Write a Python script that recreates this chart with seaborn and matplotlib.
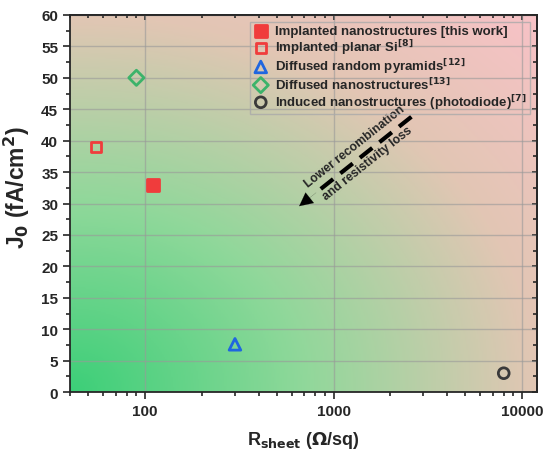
import matplotlib
matplotlib.use("Agg")
import matplotlib.pyplot as plt
import seaborn as sns
import numpy as np
from matplotlib.colors import LinearSegmentedColormap

sns.set_style("ticks")
plt.rcParams['font.family'] = ['Liberation Sans', 'DejaVu Sans']
plt.rcParams['font.weight'] = 'bold'
plt.rcParams['mathtext.default'] = 'regular'

# datos
labels = ["Implanted nanostructures [this work]",
          "Implanted planar Si$^{\\mathbf{[8]}}$",
          "Diffused random pyramids$^{\\mathbf{[12]}}$",
          "Diffused nanostructures$^{\\mathbf{[13]}}$",
          "Induced nanostructures (photodiode)$^{\\mathbf{[7]}}$"]
r_sheet = [110, 55, 300, 90, 8000]
j0 = [33, 39, 7.6, 50, 3.0]

markers = ["s", "s", "^", "D", "o"]
colores = ["#f03c3c", "#f03c3c", "#1f66e0", "#3cb36a", "#3a3a3a"]
rellenos = ["#f03c3c", "none", "none", "none", "none"]
tamanos = [70, 50, 70, 60, 60]

fig = plt.figure(figsize=(5.44, 4.56), dpi=100)
ax = fig.add_axes([0.1287, 0.138, 0.8583, 0.827])

# fondo degradado (verde abajo-izquierda, rosa arriba-derecha)
cmap = LinearSegmentedColormap.from_list(
    "fondo", [(0, "#3ccf78"), (0.35, "#8fd89a"), (0.707, "#e2c6b4"), (1, "#f8c2c7")])
u, v = np.meshgrid(np.linspace(0, 1, 300), np.linspace(0, 1, 300))
r = np.sqrt(u**2 + v**2) / np.sqrt(2)
ax.imshow(r, cmap=cmap, extent=[0, 1, 0, 1], origin="lower", aspect="auto",
          transform=ax.transAxes, zorder=0, vmin=0, vmax=1)

for i in range(len(labels)):
    sns.scatterplot(ax=ax, x=[r_sheet[i]], y=[j0[i]], marker=markers[i], s=tamanos[i],
                    facecolor=rellenos[i], edgecolor=colores[i], linewidth=2,
                    label=labels[i], zorder=5)

ax.set_xscale("log")
ax.set_xlim(40, 12000)
ax.set_ylim(0, 60)
ax.set_yticks(np.arange(0, 61, 5))
ax.set_yticks(np.arange(0, 61, 2.5), minor=True)
ax.set_xticks([100, 1000, 10000])
ax.set_xticklabels(["100", "1000", "10000"])
ax.grid(True, which="major", color="#999999", alpha=0.6, lw=1, zorder=1)
ax.set_axisbelow(True)

ax.tick_params(which="both", direction="out", top=False, right=False, labelsize=11, width=1.2)
ax.tick_params(which="major", length=5)
ax.tick_params(which="minor", length=3)
ax2 = ax.secondary_xaxis("top")
ax2.set_xticks([100, 1000, 10000])
ax2.tick_params(which="both", direction="in", labeltop=False, width=1.2)
ax3 = ax.secondary_yaxis("right")
ax3.set_yticks(np.arange(0, 61, 5))
ax3.set_yticks(np.arange(0, 61, 2.5), minor=True)
ax3.tick_params(which="both", direction="in", labelright=False, width=1.2)
ax3.tick_params(which="minor", length=3)
for s in ax.spines.values():
    s.set_linewidth(1.3)
for a in (ax2, ax3):
    for s in a.spines.values():
        s.set_linewidth(1.3)
for t in ax.get_xticklabels() + ax.get_yticklabels():
    t.set_fontweight("bold")

ax.set_xlabel("R$_{\\mathbf{sheet}}$ ($\\mathbf{\\Omega}$/sq)", fontsize=13, fontweight="bold", labelpad=8)
ax.set_ylabel("J$_\\mathbf{0}$ (fA/cm$^\\mathbf{2}$)", fontsize=16.5, fontweight="bold")
ax.yaxis.set_label_coords(-0.082, 0.545)

leg = ax.legend(loc="upper right", fontsize=9.5, frameon=True, handletextpad=0.5,
                borderpad=0.25, labelspacing=0.02, borderaxespad=0.5, handlelength=1.2,
                facecolor="none", edgecolor="#aaaaaa", fancybox=False)
leg.get_frame().set_linewidth(1)
for t in leg.get_texts():
    t.set_fontweight("bold")

# flecha discontinua
cola = (2590, 43.8)
fin = (830, 32.0)
punta = (640, 29.3)
centro = (1400, 37.8)
ax.plot([cola[0], fin[0]], [cola[1], fin[1]], color="black", lw=3, dashes=(3.8, 2.2), zorder=4)
ax.annotate("", xy=punta, xytext=fin,
            arrowprops=dict(arrowstyle="-|>", color="black", mutation_scale=24, lw=0.1))
p1 = ax.transData.transform(cola)
p2 = ax.transData.transform(fin)
ang = np.arctan2(p1[1] - p2[1], p1[0] - p2[0])
d = 7.8
for txt, sgn in [("Lower recombination", 1), ("and resistivity loss", -1)]:
    ax.annotate(txt, xy=centro, xytext=(-sgn * d * np.sin(ang), sgn * d * np.cos(ang)),
                textcoords="offset points", rotation=np.degrees(ang),
                ha="center", va="center", fontsize=8.8, fontweight="bold",
                rotation_mode="anchor")

fig.savefig("out.png", dpi=100)
